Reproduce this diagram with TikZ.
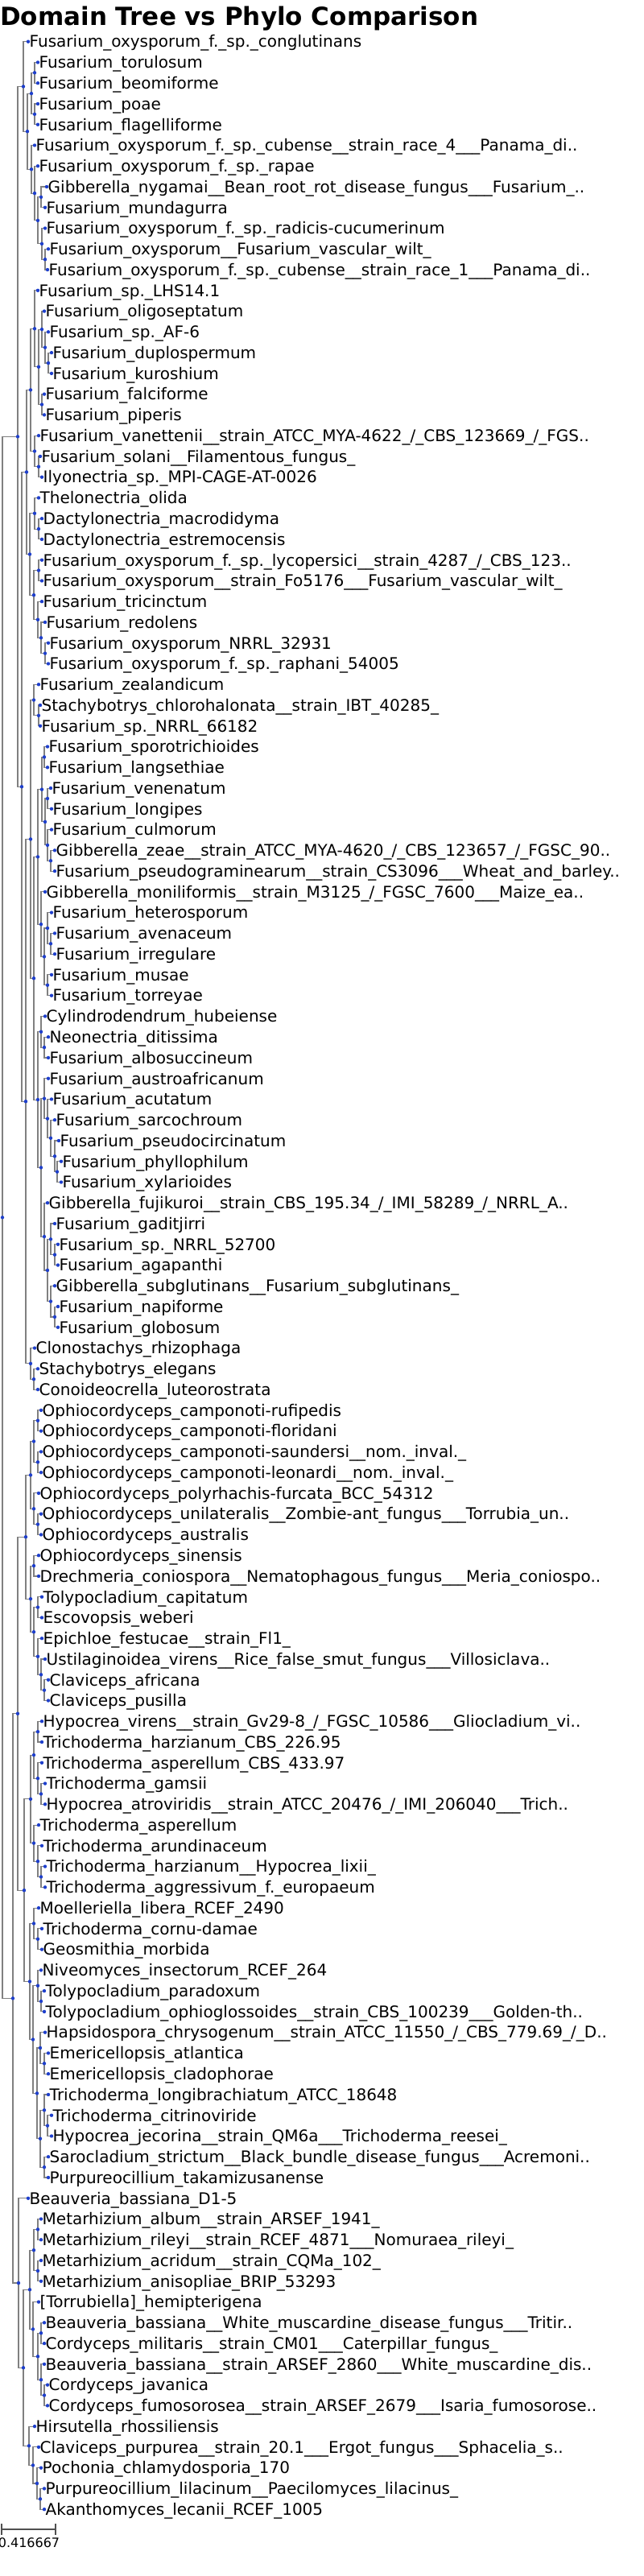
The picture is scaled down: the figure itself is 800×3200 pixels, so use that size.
\documentclass[tikz,border=0pt]{standalone}
\usepackage{fontspec}
\setmainfont{DejaVu Sans}
\usepackage{xcolor}
\usepackage{tikz}
\definecolor{treeBlue}{HTML}{1E3FCC}
\definecolor{treeGray}{HTML}{808080}
\definecolor{barGray}{HTML}{505050}
\tikzset{
  branch/.style={draw=treeGray,line width=1.1pt},
  taxon/.style={anchor=base west,inner sep=0pt,xshift=1.5pt,yshift=-7.3pt,
    font=\fontsize{20}{24}\selectfont},
}
% internal nodes: name / x / row / first child / second child
\def\innerlist{a1/43/2.5/l2/l3, a2/43/4.5/l4/l5, a3/39/3.5/a1/a2,
  b1/56/11.5/l11/l12, b2/52/10.75/l10/b1, b3/51/8.5/l8/l9, b4/47/9.625/b3/b2,
  b5/43/8.3125/l7/b4, b6/39/7.15625/l6/b5, c1/34/5.328/a3/b6, c2/29/3.164/l1/c1,
  d1/60/16.5/l16/l17, d2/56/15.75/l15/d1, d3/52/14.875/l14/d2, d4/52/18.5/l18/l19,
  d5/48/16.6875/d3/d4, d6/43/14.844/l13/d5, e1/48/21.5/l21/l22, e2/43/20.75/l20/e1,
  e3/38/17.797/d6/e2, f1/48/24.5/l24/l25, f2/43/23.75/l23/f1, f3/56/30.5/l30/l31,
  f4/51/29.75/l29/f3, f5/47/28.875/l28/f4, f6/48/26.5/l26/l27, f7/42/27.6875/f6/f5,
  f8/37/25.719/f2/f7, g1/33/21.758/e3/f8,
  h1/48/33.5/l33/l34, h2/42/32.75/l32/h1,
  i1/55/35.5/l35/l36, i2/59/37.5/l37/l38, i3/63/40.5/l40/l41, i4/59/39.75/l39/i3,
  i5/56/38.625/i2/i4, i6/52/37.0625/i1/i5,
  j1/63/44.5/l44/l45, j2/59/43.75/l43/j1, j3/59/46.5/l46/l47, j4/55/45.125/j2/j3,
  j5/51/43.5625/l42/j4, j6/47/40.3125/i6/j5,
  k1/55/49.5/l49/l50, k2/51/48.75/l48/k1, k3/71/55.5/l55/l56, k4/68/54.75/l54/k3,
  k5/63/53.875/l53/k4, k6/59/52.9375/l52/k5, k7/55/51.969/l51/k6, k8/68/59.5/l59/l60,
  k9/63/58.75/l58/k8, k10/68/62.5/l62/l63, k11/63/61.75/l61/k10, k12/59/60.25/k9/k11,
  k13/55/58.625/l57/k12, k14/51/55.297/k7/k13, k15/47/52.023/k2/k14,
  m1/42/46.168/j6/k15, m2/38/39.459/h2/m1,
  n1/42/65.5/l65/l66, n2/38/64.75/l64/n1, n3/32/52.105/m2/n2,
  p1/27/36.93/g1/n3, p2/22/20.047/c2/p1,
  q1/47/67.5/l67/l68, q2/47/69.5/l69/l70, q3/42/68.5/q1/q2, q4/47/72.5/l72/l73,
  q5/42/71.75/l71/q4, q6/38/70.125/q3/q5, q7/42/74.5/l74/l75, q8/47/76.5/l76/l77,
  q9/55/80.5/l80/l81, q10/51/79.75/l79/q9, q11/47/78.875/l78/q10,
  q12/42/77.6875/q8/q11, q13/38/76.094/q7/q12, q14/32/73.109/q6/q13,
  r1/47/82.5/l82/l83, r2/51/85.5/l85/l86, r3/47/84.75/l84/r2, r4/42/83.625/r1/r3,
  r5/51/89.5/l89/l90, r6/47/88.75/l88/r5, r7/42/87.875/l87/r6, r8/38/85.75/r4/r7,
  r9/47/92.5/l92/l93, r10/42/91.75/l91/r9, r11/51/95.5/l95/l96, r12/47/94.75/l94/r11,
  r13/55/98.5/l98/l99, r14/50/97.75/l97/r13, r15/59/101.5/l101/l102,
  r16/55/100.75/l100/r15, r17/55/103.5/l103/l104, r18/50/102.125/r16/r17,
  r19/46/99.9375/r14/r18, r20/41/97.344/r12/r19, r21/37/94.547/r10/r20,
  r22/30/90.148/r8/r21, s1/22/81.629/q14/r22,
  t1/47/106.5/l106/l107, t2/47/108.5/l108/l109, t3/42/107.5/t1/t2,
  t4/51/111.5/l111/l112, t5/55/114.5/l114/l115, t6/51/113.75/l113/t5,
  t7/47/112.625/t4/t6, t8/41/111.3125/l110/t7, t9/37/109.406/t3/t8,
  u1/50/119.5/l119/l120, u2/46/118.75/l118/u1, u3/41/117.875/l117/u2,
  u4/36/116.9375/l116/u3, v1/29/113.172/t9/u4, v2/23/109.086/l105/v1,
  w1/16/95.357/s1/v2, root/3/57.702/p2/w1}

\begin{document}
\begin{tikzpicture}[x=1pt,y=-1pt]
  \useasboundingbox (0,0) rectangle (800,3200);
  \node[anchor=base west,inner sep=0pt,font=\bfseries\fontsize{31}{36}\selectfont] (title)
    at (0,32) {Domain Tree vs Phylo Comparison};

  \begin{scope}[yshift=-25.94pt,y=-25.76pt]
    % leaves
    \foreach \i/\lx/\txt in {
      1/35/{Fusarium\_oxysporum\_f.\_sp.\_conglutinans},
      2/47/{Fusarium\_torulosum},
      3/47/{Fusarium\_beomiforme},
      4/47/{Fusarium\_poae},
      5/47/{Fusarium\_flagelliforme},
      6/43/{Fusarium\_oxysporum\_f.\_sp.\_cubense\_\_strain\_race\_4\_\_\_Panama\_di..},
      7/47/{Fusarium\_oxysporum\_f.\_sp.\_rapae},
      8/58/{Gibberella\_nygamai\_\_Bean\_root\_rot\_disease\_fungus\_\_\_Fusarium\_..},
      9/56/{Fusarium\_mundagurra},
      10/56/{Fusarium\_oxysporum\_f.\_sp.\_radicis-cucumerinum},
      11/60/{Fusarium\_oxysporum\_\_Fusarium\_vascular\_wilt\_},
      12/59/{Fusarium\_oxysporum\_f.\_sp.\_cubense\_\_strain\_race\_1\_\_\_Panama\_di..},
      13/47/{Fusarium\_sp.\_LHS14.1},
      14/55/{Fusarium\_oligoseptatum},
      15/60/{Fusarium\_sp.\_AF-6},
      16/64/{Fusarium\_duplospermum},
      17/64/{Fusarium\_kuroshium},
      18/55/{Fusarium\_falciforme},
      19/55/{Fusarium\_piperis},
      20/48/{Fusarium\_vanettenii\_\_strain\_ATCC\_MYA-4622\_/\_CBS\_123669\_/\_FGS..},
      21/50/{Fusarium\_solani\_\_Filamentous\_fungus\_},
      22/52/{Ilyonectria\_sp.\_MPI-CAGE-AT-0026},
      23/48/{Thelonectria\_olida},
      24/52/{Dactylonectria\_macrodidyma},
      25/52/{Dactylonectria\_estremocensis},
      26/52/{Fusarium\_oxysporum\_f.\_sp.\_lycopersici\_\_strain\_4287\_/\_CBS\_123..},
      27/52/{Fusarium\_oxysporum\_\_strain\_Fo5176\_\_\_Fusarium\_vascular\_wilt\_},
      28/52/{Fusarium\_tricinctum},
      29/56/{Fusarium\_redolens},
      30/60/{Fusarium\_oxysporum\_NRRL\_32931},
      31/60/{Fusarium\_oxysporum\_f.\_sp.\_raphani\_54005},
      32/48/{Fusarium\_zealandicum},
      33/50/{Stachybotrys\_chlorohalonata\_\_strain\_IBT\_40285\_},
      34/50/{Fusarium\_sp.\_NRRL\_66182},
      35/59/{Fusarium\_sporotrichioides},
      36/59/{Fusarium\_langsethiae},
      37/63/{Fusarium\_venenatum},
      38/64/{Fusarium\_longipes},
      39/64/{Fusarium\_culmorum},
      40/68/{Gibberella\_zeae\_\_strain\_ATCC\_MYA-4620\_/\_CBS\_123657\_/\_FGSC\_90..},
      41/68/{Fusarium\_pseudograminearum\_\_strain\_CS3096\_\_\_Wheat\_and\_barley..},
      42/56/{Gibberella\_moniliformis\_\_strain\_M3125\_/\_FGSC\_7600\_\_\_Maize\_ea..},
      43/64/{Fusarium\_heterosporum},
      44/68/{Fusarium\_avenaceum},
      45/68/{Fusarium\_irregulare},
      46/64/{Fusarium\_musae},
      47/64/{Fusarium\_torreyae},
      48/56/{Cylindrodendrum\_hubeiense},
      49/60/{Neonectria\_ditissima},
      50/60/{Fusarium\_albosuccineum},
      51/60/{Fusarium\_austroafricanum},
      52/64/{Fusarium\_acutatum},
      53/68/{Fusarium\_sarcochroum},
      54/73/{Fusarium\_pseudocircinatum},
      55/76/{Fusarium\_phyllophilum},
      56/76/{Fusarium\_xylarioides},
      57/59/{Gibberella\_fujikuroi\_\_strain\_CBS\_195.34\_/\_IMI\_58289\_/\_NRRL\_A..},
      58/68/{Fusarium\_gaditjirri},
      59/72/{Fusarium\_sp.\_NRRL\_52700},
      60/72/{Fusarium\_agapanthi},
      61/68/{Gibberella\_subglutinans\_\_Fusarium\_subglutinans\_},
      62/72/{Fusarium\_napiforme},
      63/72/{Fusarium\_globosum},
      64/43/{Clonostachys\_rhizophaga},
      65/47/{Stachybotrys\_elegans},
      66/47/{Conoideocrella\_luteorostrata},
      67/51/{Ophiocordyceps\_camponoti-rufipedis},
      68/51/{Ophiocordyceps\_camponoti-floridani},
      69/51/{Ophiocordyceps\_camponoti-saundersi\_\_nom.\_inval.\_},
      70/51/{Ophiocordyceps\_camponoti-leonardi\_\_nom.\_inval.\_},
      71/48/{Ophiocordyceps\_polyrhachis-furcata\_BCC\_54312},
      72/51/{Ophiocordyceps\_unilateralis\_\_Zombie-ant\_fungus\_\_\_Torrubia\_un..},
      73/51/{Ophiocordyceps\_australis},
      74/48/{Ophiocordyceps\_sinensis},
      75/48/{Drechmeria\_coniospora\_\_Nematophagous\_fungus\_\_\_Meria\_coniospo..},
      76/52/{Tolypocladium\_capitatum},
      77/52/{Escovopsis\_weberi},
      78/52/{Epichloe\_festucae\_\_strain\_Fl1\_},
      79/56/{Ustilaginoidea\_virens\_\_Rice\_false\_smut\_fungus\_\_\_Villosiclava..},
      80/60/{Claviceps\_africana},
      81/60/{Claviceps\_pusilla},
      82/52/{Hypocrea\_virens\_\_strain\_Gv29-8\_/\_FGSC\_10586\_\_\_Gliocladium\_vi..},
      83/52/{Trichoderma\_harzianum\_CBS\_226.95},
      84/52/{Trichoderma\_asperellum\_CBS\_433.97},
      85/56/{Trichoderma\_gamsii},
      86/56/{Hypocrea\_atroviridis\_\_strain\_ATCC\_20476\_/\_IMI\_206040\_\_\_Trich..},
      87/48/{Trichoderma\_asperellum},
      88/52/{Trichoderma\_arundinaceum},
      89/56/{Trichoderma\_harzianum\_\_Hypocrea\_lixii\_},
      90/56/{Trichoderma\_aggressivum\_f.\_europaeum},
      91/48/{Moelleriella\_libera\_RCEF\_2490},
      92/52/{Trichoderma\_cornu-damae},
      93/52/{Geosmithia\_morbida},
      94/51/{Niveomyces\_insectorum\_RCEF\_264},
      95/55/{Tolypocladium\_paradoxum},
      96/55/{Tolypocladium\_ophioglossoides\_\_strain\_CBS\_100239\_\_\_Golden-th..},
      97/56/{Hapsidospora\_chrysogenum\_\_strain\_ATCC\_11550\_/\_CBS\_779.69\_/\_D..},
      98/60/{Emericellopsis\_atlantica},
      99/60/{Emericellopsis\_cladophorae},
      100/60/{Trichoderma\_longibrachiatum\_ATCC\_18648},
      101/64/{Trichoderma\_citrinoviride},
      102/64/{Hypocrea\_jecorina\_\_strain\_QM6a\_\_\_Trichoderma\_reesei\_},
      103/60/{Sarocladium\_strictum\_\_Black\_bundle\_disease\_fungus\_\_\_Acremoni..},
      104/60/{Purpureocillium\_takamizusanense},
      105/35/{Beauveria\_bassiana\_D1-5},
      106/51/{Metarhizium\_album\_\_strain\_ARSEF\_1941\_},
      107/51/{Metarhizium\_rileyi\_\_strain\_RCEF\_4871\_\_\_Nomuraea\_rileyi\_},
      108/51/{Metarhizium\_acridum\_\_strain\_CQMa\_102\_},
      109/51/{Metarhizium\_anisopliae\_BRIP\_53293},
      110/48/{[Torrubiella]\_hemipterigena},
      111/55/{Beauveria\_bassiana\_\_White\_muscardine\_disease\_fungus\_\_\_Tritir..},
      112/55/{Cordyceps\_militaris\_\_strain\_CM01\_\_\_Caterpillar\_fungus\_},
      113/55/{Beauveria\_bassiana\_\_strain\_ARSEF\_2860\_\_\_White\_muscardine\_dis..},
      114/59/{Cordyceps\_javanica},
      115/59/{Cordyceps\_fumosorosea\_\_strain\_ARSEF\_2679\_\_\_Isaria\_fumosorose..},
      116/43/{Hirsutella\_rhossiliensis},
      117/48/{Claviceps\_purpurea\_\_strain\_20.1\_\_\_Ergot\_fungus\_\_\_Sphacelia\_s..},
      118/51/{Pochonia\_chlamydosporia\_170},
      119/55/{Purpureocillium\_lilacinum\_\_Paecilomyces\_lilacinus\_},
      120/55/{Akanthomyces\_lecanii\_RCEF\_1005}}{
      \coordinate (l\i) at (\lx,\i);
      \node[taxon] (lab\i) at (l\i) {\txt};
    }
    % branches
    \foreach \nd/\xx/\yy/\ca/\cb in \innerlist {
      \coordinate (\nd) at (\xx,\yy);
      \draw[branch] (\ca) -| (\nd) |- (\cb);
    }
    % node dots
    \foreach \nd/\xx/\yy/\ca/\cb in \innerlist
      \fill[treeBlue] (\nd) circle (2.2pt);
    \foreach \i in {1,...,120}
      \fill[treeBlue] (l\i) circle (2.2pt);
  \end{scope}

  % scale bar
  \coordinate (sbl) at (2,3142);
  \coordinate (sbr) at (69,3142);
  \draw[barGray,line width=1.1pt] (sbl) -- (sbr);
  \draw[barGray,line width=1.1pt] ([yshift=7pt]sbl) -- ([yshift=-7pt]sbl);
  \draw[barGray,line width=1.1pt] ([yshift=7pt]sbr) -- ([yshift=-7pt]sbr);
  \node[anchor=base,inner sep=0pt,font=\fontsize{16}{18}\selectfont] (sblabel)
    at (36,3164) {0.416667};
\end{tikzpicture}
\end{document}
